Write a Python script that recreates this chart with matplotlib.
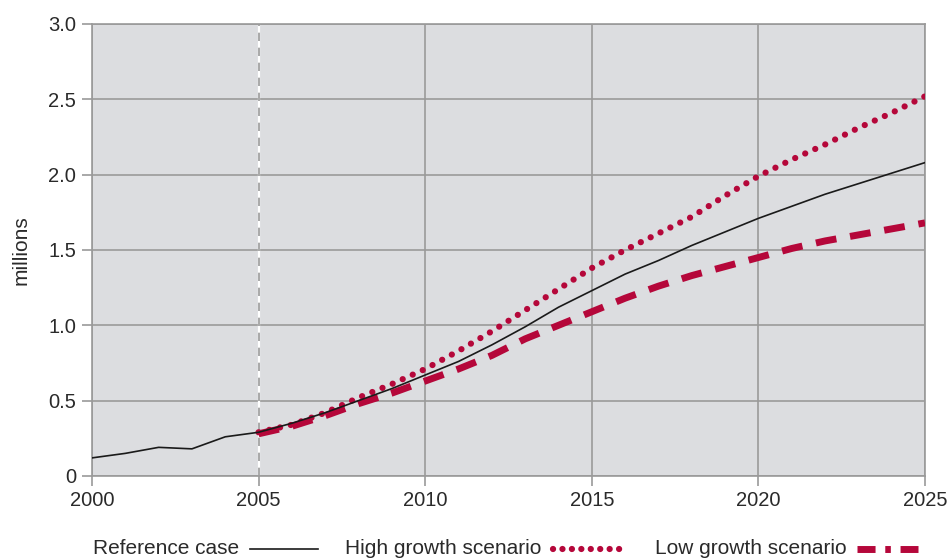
import matplotlib
matplotlib.use("Agg")
import matplotlib.pyplot as plt
from matplotlib.lines import Line2D

# data (millions)
years_ref = list(range(2000, 2026))
reference = [0.12, 0.15, 0.19, 0.18, 0.26, 0.29, 0.35, 0.42, 0.50, 0.58,
             0.67, 0.76, 0.87, 0.99, 1.12, 1.23, 1.34, 1.43, 1.53, 1.62,
             1.71, 1.79, 1.87, 1.94, 2.01, 2.08]
years_scen = list(range(2005, 2026))
high = [0.29, 0.34, 0.42, 0.52, 0.61, 0.71, 0.83, 0.96, 1.10, 1.24,
        1.38, 1.50, 1.61, 1.72, 1.86, 1.99, 2.10, 2.20, 2.31, 2.41, 2.52]
low = [0.28, 0.33, 0.40, 0.48, 0.55, 0.63, 0.71, 0.80, 0.91, 1.00,
       1.09, 1.18, 1.26, 1.33, 1.39, 1.45, 1.51, 1.56, 1.60, 1.64, 1.68]
xticks = [2000, 2005, 2010, 2015, 2020, 2025]
yticks = [0, 0.5, 1.0, 1.5, 2.0, 2.5, 3.0]
ytick_labels = ["0", "0.5", "1.0", "1.5", "2.0", "2.5", "3.0"]

red = "#b5073a"
grid = "#9a9a9a"
txt = "#2a2a2a"
dots = (0, (0.01, 1.75))
dashes = (0, (3.0, 2.0))

plt.rcParams["font.family"] = ["Liberation Sans", "DejaVu Sans"]

fig = plt.figure(figsize=(9.5, 5.58), dpi=100)
ax = fig.add_axes([0.0968, 0.147, 0.8769, 0.81])
ax.set_facecolor("#dcdde0")

ax.set_xlim(2000, 2025)
ax.set_ylim(0, 3.0)
ax.set_xticks(xticks)
ax.set_yticks(yticks)
ax.set_yticklabels(ytick_labels)
ax.grid(True, color=grid, linewidth=1.2)
ax.set_axisbelow(True)
for s in ax.spines.values():
    s.set_color(grid)
    s.set_linewidth(1.2)
ax.tick_params(colors=grid, labelcolor=txt, labelsize=14.5, length=7.5, width=1.2)
ax.tick_params(axis="x", pad=3)
ax.tick_params(axis="y", pad=4)

# dashed marker for 2005 (start of projections)
ax.axvline(2005, color="#ffffff", linewidth=1.6, zorder=1)
ax.axvline(2005, color=grid, linewidth=1.2, linestyle=(0, (5, 4)), zorder=1.5)

ax.plot(years_scen, high, color=red, linewidth=4.5, linestyle=dots,
        dash_capstyle="round", zorder=3)
ax.plot(years_scen, low, color=red, linewidth=5, linestyle=dashes,
        dash_capstyle="butt", zorder=3)
ax.plot(years_ref, reference, color="#1a1a1a", linewidth=1.2, zorder=4)

ax.set_ylabel("millions", fontsize=15, color=txt, va="center")
ax.yaxis.set_label_coords((21 - 92) / 833, 0.5)

# legend along the bottom, text followed by a line sample
fy = 1 - 549 / 558
fig.text(93 / 950, fy, "Reference case", fontsize=15, va="center", color=txt)
fig.add_artist(Line2D([250 / 950, 318 / 950], [fy, fy], color="#1a1a1a", linewidth=1.2))
fig.text(345 / 950, fy, "High growth scenario", fontsize=15, va="center", color=txt)
fig.add_artist(Line2D([553 / 950, 621 / 950], [fy, fy], color=red, linewidth=4.5,
                      linestyle=(0, (0.01, 1.5)), dash_capstyle="round"))
fig.text(655 / 950, fy, "Low growth scenario", fontsize=15, va="center", color=txt)
fig.add_artist(Line2D([857 / 950, 918 / 950], [fy, fy], color=red, linewidth=5,
                      linestyle=(0, (2.6, 1.4, 0.8, 1.4)), dash_capstyle="butt"))

fig.savefig("out.png", dpi=100)
